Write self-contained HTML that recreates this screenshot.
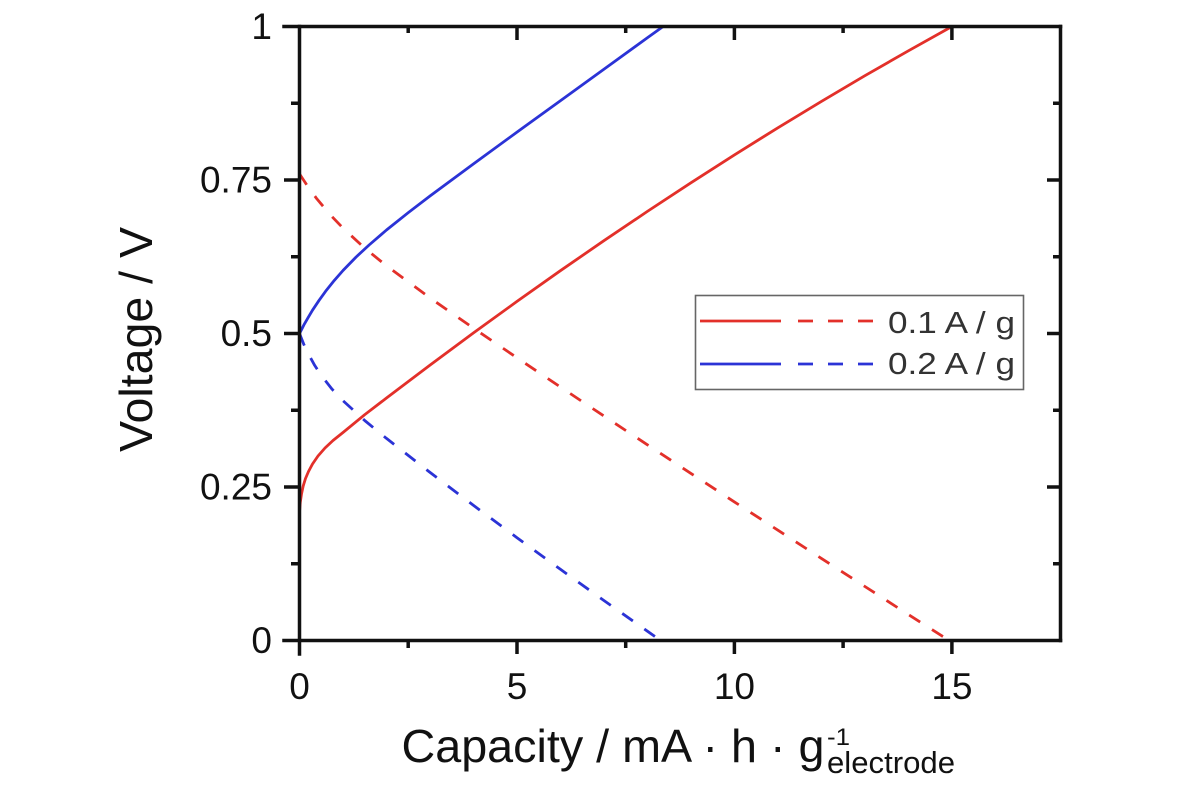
<!DOCTYPE html>
<html>
<head>
<meta charset="utf-8">
<style>
  html, body { margin:0; padding:0; background:#ffffff; }
  svg { display:block; }
  text { font-family: "Liberation Sans", Arial, sans-serif; }
</style>
</head>
<body>
<svg width="1200" height="800" viewBox="0 0 1200 800" xmlns="http://www.w3.org/2000/svg">
  <rect x="0" y="0" width="1200" height="800" fill="#ffffff"/>

  <!-- curves -->
  <g fill="none" stroke-width="2.8" stroke-linejoin="round" stroke-linecap="butt">
    <!-- red solid -->
    <polyline stroke="#e3302a" points="299.5,530 299.5,512 300.3,502 301.5,494 303.2,486 305.5,478.5 308.5,471.5 312.5,464 318,456 325,448 333,440.5 343.0,432.5 364.7,414.7 386.5,398.0 430.0,365.1 473.5,332.9 517.0,301.4 560.4,270.7 603.9,240.7 647.4,211.4 690.9,182.8 734.4,154.9 777.9,127.8 821.4,101.4 864.9,75.7 908.4,50.8 951.9,26.5"/>
    <!-- red dashed -->
    <polyline stroke="#e3302a" stroke-dasharray="13 14" points="299.5,173.9 308.2,187.1 316.9,198.9 329.9,214.4 343.0,228.1 364.7,248.1 386.5,265.8 430.0,297.9 473.5,328.2 517.0,357.8 560.4,387.0 603.9,416.0 647.4,444.8 690.9,473.4 734.4,501.9 777.9,530.2 821.4,558.4 864.9,586.5 908.4,614.6 949.2,640.5"/>
    <!-- blue solid -->
    <polyline stroke="#2b33d6" points="299.5,333.5 301.7,329.3 303.8,325.1 308.2,317.4 312.5,310.2 319.1,300.3 325.6,291.3 334.3,280.4 343.0,270.5 356.0,257.1 369.1,245.0 386.5,230.0 408.2,212.7 430.0,196.0 473.5,163.9 517.0,132.1 560.4,100.7 603.9,69.2 647.4,37.8 663.1,26.5"/>
    <!-- blue dashed -->
    <polyline stroke="#2b33d6" stroke-dasharray="13 14" points="299.5,333.5 303.8,344.3 308.2,353.6 314.7,365.4 321.2,375.4 332.1,389.2 343.0,400.7 364.7,420.5 386.5,438.4 430.0,472.4 473.5,505.4 517.0,537.7 560.4,569.3 603.9,600.5 647.4,631.2 660.5,640.5"/>
  </g>

  <!-- frame -->
  <g stroke="#111" stroke-width="3.5" fill="none" stroke-linecap="square">
    <line x1="284" y1="26.5" x2="1060.5" y2="26.5"/>
    <line x1="284" y1="640.5" x2="1060.5" y2="640.5"/>
    <line x1="299.5" y1="26.5" x2="299.5" y2="654"/>
    <line x1="1060.5" y1="26.5" x2="1060.5" y2="640.5"/>
  </g>
  <g stroke="#111" stroke-width="3.5" fill="none">
    <!-- left ticks (outward) -->
    <line x1="284" y1="180" x2="299.5" y2="180"/>
    <line x1="284" y1="333.5" x2="299.5" y2="333.5"/>
    <line x1="284" y1="487" x2="299.5" y2="487"/>
    <line x1="291" y1="103.25" x2="299.5" y2="103.25"/>
    <line x1="291" y1="256.75" x2="299.5" y2="256.75"/>
    <line x1="291" y1="410.25" x2="299.5" y2="410.25"/>
    <line x1="291" y1="563.75" x2="299.5" y2="563.75"/>
    <!-- right ticks (inward) -->
    <line x1="1047" y1="180" x2="1060.5" y2="180"/>
    <line x1="1047" y1="333.5" x2="1060.5" y2="333.5"/>
    <line x1="1047" y1="487" x2="1060.5" y2="487"/>
    <line x1="1053" y1="103.25" x2="1060.5" y2="103.25"/>
    <line x1="1053" y1="256.75" x2="1060.5" y2="256.75"/>
    <line x1="1053" y1="410.25" x2="1060.5" y2="410.25"/>
    <line x1="1053" y1="563.75" x2="1060.5" y2="563.75"/>
    <!-- bottom ticks (outward) -->
    <line x1="517" y1="640.5" x2="517" y2="654"/>
    <line x1="734.4" y1="640.5" x2="734.4" y2="654"/>
    <line x1="951.9" y1="640.5" x2="951.9" y2="654"/>
    <line x1="408.2" y1="640.5" x2="408.2" y2="648"/>
    <line x1="625.7" y1="640.5" x2="625.7" y2="648"/>
    <line x1="843.1" y1="640.5" x2="843.1" y2="648"/>
    <!-- top ticks (inward) -->
    <line x1="517" y1="26.5" x2="517" y2="40"/>
    <line x1="734.4" y1="26.5" x2="734.4" y2="40"/>
    <line x1="951.9" y1="26.5" x2="951.9" y2="40"/>
    <line x1="408.2" y1="26.5" x2="408.2" y2="33"/>
    <line x1="625.7" y1="26.5" x2="625.7" y2="33"/>
    <line x1="843.1" y1="26.5" x2="843.1" y2="33"/>
  </g>

  <!-- y tick labels -->
  <g font-size="37" fill="#111" text-anchor="end">
    <text x="272" y="39">1</text>
    <text x="272" y="192.5">0.75</text>
    <text x="272" y="346">0.5</text>
    <text x="272" y="499.5">0.25</text>
    <text x="272" y="653">0</text>
  </g>
  <!-- x tick labels -->
  <g font-size="37" fill="#111" text-anchor="middle">
    <text x="299.5" y="699">0</text>
    <text x="517" y="699">5</text>
    <text x="734.4" y="699">10</text>
    <text x="951.9" y="699">15</text>
  </g>

  <!-- axis titles -->
  <text x="401.5" y="762" font-size="46" fill="#111" textLength="423" lengthAdjust="spacingAndGlyphs">Capacity / mA · h · g</text>
  <text x="827" y="745" font-size="24" fill="#111" textLength="23" lengthAdjust="spacingAndGlyphs">-1</text>
  <text x="827" y="773" font-size="31" fill="#111" textLength="128" lengthAdjust="spacingAndGlyphs">electrode</text>
  <text transform="translate(152,339.5) rotate(-90)" x="0" y="0" font-size="46" fill="#111" text-anchor="middle" textLength="225" lengthAdjust="spacingAndGlyphs">Voltage / V</text>

  <!-- legend -->
  <rect x="695.5" y="295.5" width="328" height="94" fill="#ffffff" stroke="#666" stroke-width="1.6"/>
  <g stroke-width="2.8" fill="none">
    <line x1="700" y1="321" x2="781" y2="321" stroke="#e3302a"/>
    <line x1="798" y1="321" x2="873" y2="321" stroke="#e3302a" stroke-dasharray="15 15"/>
    <line x1="700" y1="364" x2="781" y2="364" stroke="#2b33d6"/>
    <line x1="798" y1="364" x2="873" y2="364" stroke="#2b33d6" stroke-dasharray="15 15"/>
  </g>
  <g font-size="31" fill="#333">
    <text x="888" y="333" textLength="127" lengthAdjust="spacingAndGlyphs">0.1 A / g</text>
    <text x="888" y="374" textLength="127" lengthAdjust="spacingAndGlyphs">0.2 A / g</text>
  </g>
</svg>
</body>
</html>
